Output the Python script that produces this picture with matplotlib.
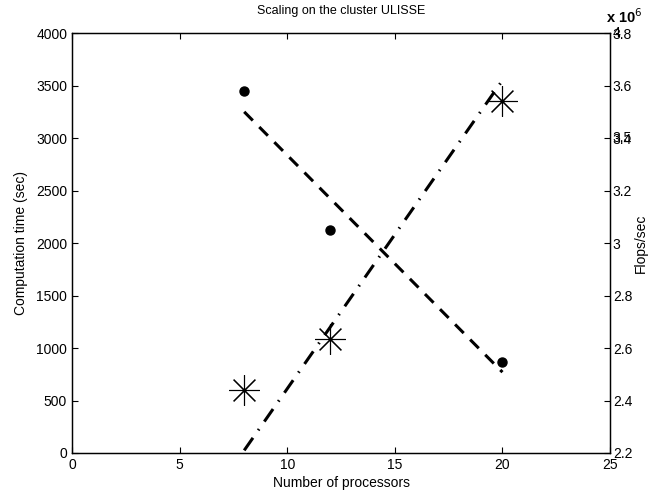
import matplotlib
matplotlib.use("Agg")
import matplotlib.pyplot as plt
import matplotlib.transforms as mtransforms

plt.rcParams['font.family'] = ['Liberation Sans', 'DejaVu Sans']
plt.rcParams['font.size'] = 10

# Data
procs = [8, 12, 20]
comp_time = [3450, 2120, 870]          # sec, left axis
flops = [2.44, 2.635, 3.54]            # x 10^6 flops/sec, right axis

# fitted trend lines (end points)
fit_x = [8, 20]
fit_time = [3250, 770]
fit_flops = [2.21, 3.62]

# right axis tick labels (including the overlapped ones from the original)
right_ticks = [2.2, 2.4, 2.6, 2.8, 3.0, 3.2, 3.4, 3.6, 3.8]
right_labels = ['2.2', '2.4', '2.6', '2.8', '3', '3.2', '3.4', '3.6', '3.8']
ghost_ticks = [3.4, 3.8]
ghost_labels = ['3.5', '4']

fig = plt.figure(figsize=(6.49, 4.96), dpi=100)
ax1 = fig.add_axes([0.111, 0.0867, 0.829, 0.8466])
ax2 = ax1.twinx()

# left axis: computation time
ax1.plot(procs, comp_time, 'o', color='black', markersize=6.5)
ax1.plot(fit_x, fit_time, color='black', linewidth=2.2, dashes=(4, 3))
ax1.set_xlim(0, 25)
ax1.set_ylim(0, 4000)
ax1.set_xticks([0, 5, 10, 15, 20, 25])
ax1.set_yticks(range(0, 4001, 500))
ax1.set_xlabel('Number of processors', labelpad=3)
ax1.set_ylabel('Computation time (sec)', labelpad=6)
ax1.set_title('Scaling on the cluster ULISSE', fontsize=9, pad=14)
ax1.tick_params(direction='in', length=4, width=0.8, top=True, labelsize=10)

# right axis: flops/sec
ax2.plot(procs, flops, linestyle='none', marker=(8, 2, 0), color='black',
         markersize=22, markeredgewidth=0.8)
ax2.plot(fit_x, fit_flops, color='black', linewidth=2.2, dashes=(5, 3, 0.5, 3))
ax2.set_ylim(2.2, 3.8)
ax2.set_yticks(right_ticks)
ax2.set_yticklabels(right_labels)
ax2.set_ylabel('Flops/sec', labelpad=1)
ax2.tick_params(direction='in', length=4, width=0.8, labelsize=10, pad=2)

# overlapped labels of the original plotyy output
trans = mtransforms.blended_transform_factory(ax2.transAxes, ax2.transData)
for t, lab in zip(ghost_ticks, ghost_labels):
    ax2.text(1.0 + 2.5 / 537, t, lab, transform=trans, ha='left',
             va='center', fontsize=10, clip_on=False)
ax2.text(0.993, 1.018, r'x 10$^6$', transform=ax2.transAxes, ha='left',
         va='bottom', fontsize=10.5, fontweight='bold')

for ax in (ax1, ax2):
    for s in ax.spines.values():
        s.set_linewidth(0.9)

fig.savefig('out.png', dpi=100)
